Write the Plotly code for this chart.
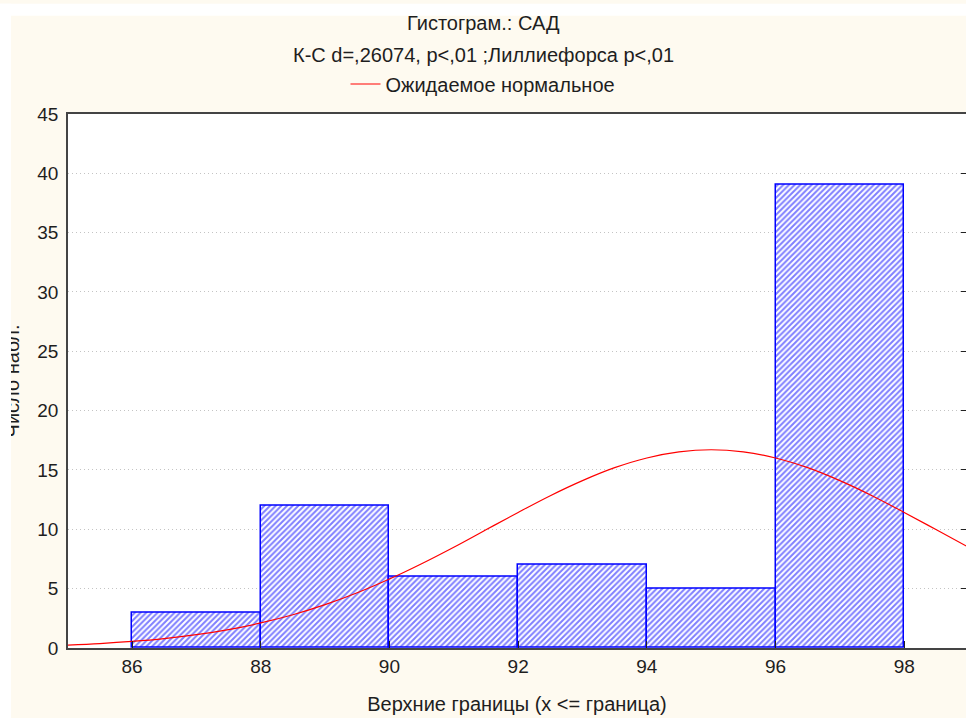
import plotly.graph_objects as go

# Histogram bins (upper bounds) and observed counts
bin_lower = [86, 88, 90, 92, 94, 96]
bin_upper = [88, 90, 92, 94, 96, 98]
counts = [3, 12, 6, 7, 5, 39]

# Expected normal curve, sampled along the x axis
curve_x = [85.0, 85.5, 86.0, 86.5, 87.0, 87.5, 88.0, 88.5, 89.0, 89.5,
           90.0, 90.5, 91.0, 91.5, 92.0, 92.5, 93.0, 93.5, 94.0, 94.5,
           95.0, 95.5, 96.0, 96.5, 97.0, 97.5, 98.0, 98.5, 99.0]
curve_y = [0.24, 0.37, 0.55, 0.79, 1.12, 1.55, 2.11, 2.80, 3.65, 4.65,
           5.81, 7.10, 8.49, 9.96, 11.42, 12.83, 14.10, 15.19, 16.01, 16.52,
           16.70, 16.52, 16.01, 15.19, 14.10, 12.83, 11.42, 9.96, 8.49]

x_ticks = [86, 88, 90, 92, 94, 96, 98]
y_ticks = [0, 5, 10, 15, 20, 25, 30, 35, 40, 45]

title_line1 = "Гистограм.: САД"
title_line2 = "К-С d=,26074, p<,01 ;Лиллиефорса p<,01"
curve_name = "Ожидаемое нормальное"
x_title = "Верхние границы (x <= граница)"
y_title = "Число набл."

FONT = "Liberation Sans, Arial, sans-serif"
TXT = "#1e1e1e"
BG = "#FEFAF0"

# page geometry (pixels) used to place items outside the plot area
W, H = 966, 718
L, T, B = 68, 109, 70
PW, PH = W - L, H - T - B


def px_x(px):
    return (px - L) / PW


def px_y(py):
    return (H - B - py) / PH


centers = [(a + b) / 2 for a, b in zip(bin_lower, bin_upper)]
widths = [b - a for a, b in zip(bin_lower, bin_upper)]

fig = go.Figure()
fig.add_trace(go.Bar(
    x=centers, y=counts, width=widths, showlegend=False,
    marker=dict(
        color="white",
        line=dict(color="#0000FF", width=1.5),
        pattern=dict(shape="/", fgcolor="#0000FF", bgcolor="white",
                     size=4, solidity=0.5),
    ),
    hoverinfo="x+y",
))
fig.add_trace(go.Scatter(
    x=curve_x, y=curve_y, mode="lines", name=curve_name,
    line=dict(color="#FF0000", width=1.2, shape="spline"),
))
# right-hand tick marks
fig.add_trace(go.Scatter(x=[None], y=[None], yaxis="y2", showlegend=False,
                         hoverinfo="skip"))

shapes = [
    # y-axis title, partly hidden by the white page border drawn after it
    dict(type="rect", xref="paper", yref="paper", layer="below",
         x0=px_x(0), x1=px_x(20), y0=px_y(H - B), y1=px_y(T),
         line=dict(width=0), fillcolor="rgba(0,0,0,0)",
         label=dict(text=y_title, textangle=-90, textposition="middle center",
                    font=dict(family=FONT, size=20, color=TXT))),
    # white page border (left and top)
    dict(type="rect", xref="paper", yref="paper", layer="below",
         x0=px_x(-2), x1=px_x(11), y0=px_y(H + 2), y1=px_y(-2),
         line=dict(width=0), fillcolor="white"),
    dict(type="rect", xref="paper", yref="paper", layer="below",
         x0=px_x(-2), x1=px_x(W + 2), y0=px_y(10), y1=px_y(-2),
         line=dict(width=0), fillcolor="white"),
]

fig.update_layout(
    width=W, height=H,
    margin=dict(l=L, r=0, t=T, b=B),
    paper_bgcolor=BG, plot_bgcolor="white",
    font=dict(family=FONT, size=20, color=TXT),
    bargap=0,
    shapes=shapes,
    xaxis=dict(
        range=[85.005, 98.96], tickvals=x_ticks,
        ticks="inside", ticklen=7, tickcolor="#222", tickwidth=1,
        showgrid=False, zeroline=False,
        showline=True, linecolor="#444", linewidth=1.5, mirror=True,
        tickfont=dict(size=19, color=TXT),
        title=dict(text=x_title, font=dict(size=20, color=TXT), standoff=21),
    ),
    yaxis=dict(
        range=[0, 45], tickvals=y_ticks,
        ticks="", showgrid=True, gridcolor="#C4C4C4", griddash="1px,3px",
        gridwidth=1, zeroline=False,
        showline=True, linecolor="#444", linewidth=1.5,
        tickfont=dict(size=19, color=TXT), ticklabelstandoff=4,
    ),
    yaxis2=dict(
        range=[0, 45], tickvals=y_ticks, overlaying="y", side="right",
        showticklabels=False, ticks="inside", ticklen=5, tickcolor="#222",
        showgrid=False, zeroline=False, showline=False,
    ),
    legend=dict(
        orientation="h", xref="container", x=0.5, xanchor="center",
        yref="container", y=1 - 84 / H, yanchor="middle",
        bgcolor="rgba(0,0,0,0)", font=dict(size=20, color=TXT),
    ),
    annotations=[
        dict(text=title_line1, xref="paper", x=px_x(483),
             yref="paper", y=px_y(17), xanchor="center",
             yanchor="middle", showarrow=False, font=dict(size=20, color=TXT)),
        dict(text=title_line2, xref="paper", x=px_x(483),
             yref="paper", y=px_y(50), xanchor="center",
             yanchor="middle", showarrow=False, font=dict(size=20, color=TXT)),
    ],
)

fig.write_html("out.html")
